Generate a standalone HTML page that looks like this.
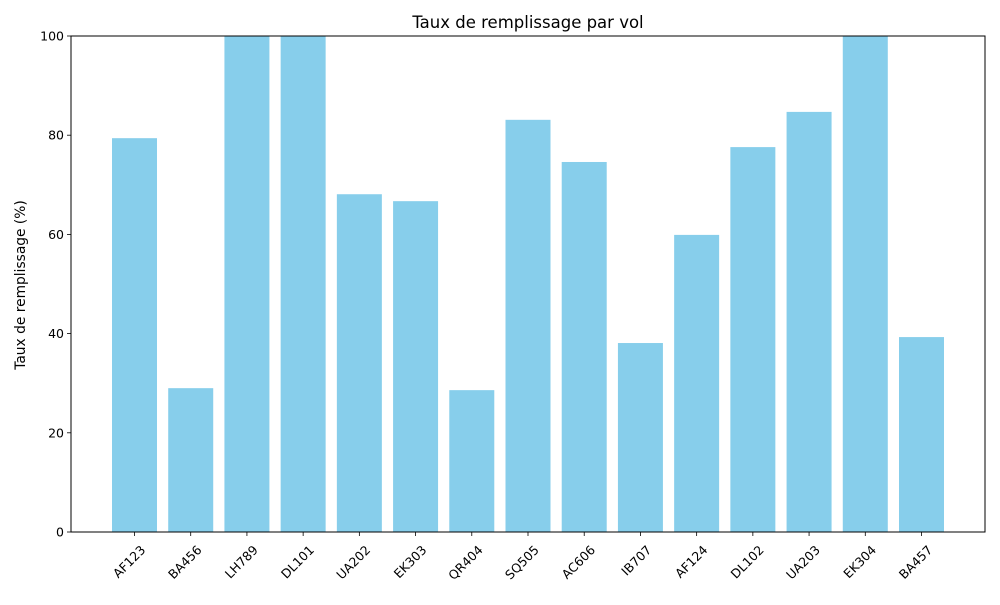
<!DOCTYPE html>
<html><head><meta charset="utf-8"><style>
body{margin:0;background:#fff;font-family:"Liberation Sans","DejaVu Sans",sans-serif;}
svg text{font-family:"DejaVu Sans","Liberation Sans",sans-serif;}
</style></head><body>
<svg id="chart" width="1000" height="600" xmlns="http://www.w3.org/2000/svg">
<rect width="1000" height="600" fill="#fff"/>
<text x="528" y="28" font-size="16.5" text-anchor="middle">Taux de remplissage par vol</text>
<text transform="translate(25,285) rotate(-90)" font-size="13.8" text-anchor="middle">Taux de remplissage (%)</text>
<g id="bars"></g><g id="axes"></g>
</svg>
<script>
const categories=["AF123","BA456","LH789","DL101","UA202","EK303","QR404","SQ505","AC606","IB707","AF124","DL102","UA203","EK304","BA457"];
const values=[79.4,29.0,100,100,68.1,66.7,28.6,83.1,74.6,38.1,59.9,77.6,84.7,100,39.3];
const yTicks=[0,20,40,60,80,100];
const L=71,R=985,T=36,B=532;
const y=v=>B-(v/100)*(B-T);
const ns="http://www.w3.org/2000/svg";
const bars=document.getElementById('bars'),axes=document.getElementById('axes');
function mk(t,a,p){const e=document.createElementNS(ns,t);for(const k in a)e.setAttribute(k,a[k]);p.appendChild(e);return e;}
const cx=i=>134.5+i*(921-134)/(categories.length-1);
const bw=45;
values.forEach((v,i)=>{
 const r=mk('rect',{x:cx(i)-bw/2,y:y(v),width:bw,height:B-y(v),fill:'#87ceeb'},bars);
 
 
 mk('line',{x1:cx(i),x2:cx(i),y1:B,y2:B+4,stroke:'#000','stroke-width':0.8},axes);
 const t=mk('text',{transform:`translate(${cx(i)+5},${B+12}) rotate(-45)`,'font-size':12.5,'text-anchor':'end','dominant-baseline':'hanging'},axes);
 t.textContent=categories[i];
 
 
});
yTicks.forEach(v=>{
 mk('line',{x1:L-4,x2:L,y1:y(v),y2:y(v),stroke:'#000','stroke-width':0.8},axes);
 const t=mk('text',{x:L-7,y:y(v)+4.5,'font-size':12.5,'text-anchor':'end'},axes);
 t.textContent=v;
 
 
});
const f=mk('rect',{x:L,y:T,width:R-L,height:B-T,fill:'none',stroke:'#000','stroke-width':1},axes);


</script>
</body></html>
